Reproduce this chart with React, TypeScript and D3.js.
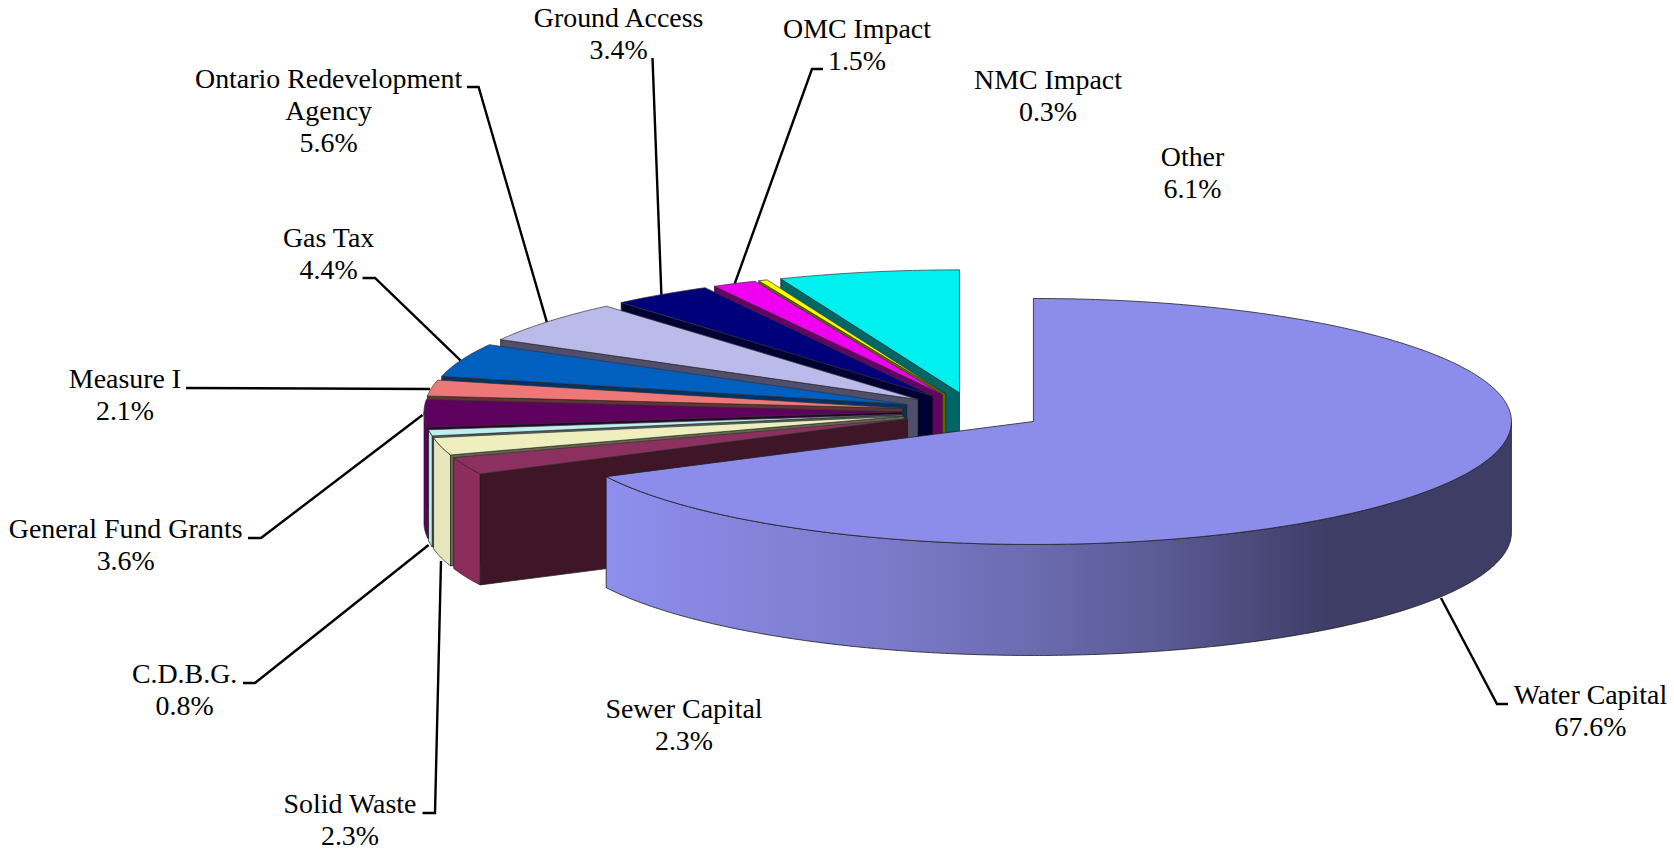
import React from "react";
import * as d3 from "d3";

const categories = ["Water Capital","Sewer Capital","Solid Waste","C.D.B.G.","General Fund Grants","Measure I","Gas Tax","Ontario Redevelopment Agency","Ground Access","OMC Impact","NMC Impact","Other"];
const values = [67.6,2.3,2.3,0.8,3.6,2.1,4.4,5.6,3.4,1.5,0.3,6.1];
const topColors = ["#8C8CEB","#8C3060","#EEEEBF","#BFEFEF","#5E005E","#EE7777","#005FBF","#BBBBEB","#00007A","#F000F0","#FFFF00","#00F0F0"];
const wallColors = ["#8C8CEB","#8C2D5C","#E6E6BC","#BFEFEF","#5E005E","#EE7777","#005FBF","#BBBBEB","#00007A","#F000F0","#FFFF00","#00F0F0"];
const faceColors = ["#3E3D66","#3F1528","#66664F","#4F6666","#2D002D","#663333","#003366","#4F4F6B","#000033","#660066","#666600","#006666"];
const waterGradientOffsets = [0,0.14,0.3,0.47,0.6,0.8,1];
const waterGradientColors = ["#8E8EEE","#8585DE","#7B7BCB","#6B6BB0","#5C5C98","#3E3D66","#3E3D66"];

// Label layout: [x centre, first baseline], split lines, leader polyline
const labelLines = [["Water Capital"],["Sewer Capital"],["Solid Waste"],["C.D.B.G."],["General Fund Grants"],["Measure I"],["Gas Tax"],["Ontario Redevelopment","Agency"],["Ground Access"],["OMC Impact"],["NMC Impact"],["Other"]];
const labelAnchors = [[1590.5,704],[684,718],[350,813],[184.6,683],[125.7,538],[125,388],[328.6,247],[328.6,87.5],[618.6,26.5],[857,37.5],[1048,89],[1192.5,166]];
const leaders: (number[][] | null)[] = [
  [[1508,704],[1497,704],[1441,598]],
  null,
  [[422.5,813],[435,813],[441,561]],
  [[243,683],[255,683],[428.6,545]],
  [[248,538],[261,538],[422.5,415]],
  [[186,388],[430,389]],
  [[362.5,278],[375,278],[460.7,360.7]],
  [[467,87],[478.6,87],[547,322.7]],
  [[652.5,58],[661.4,295]],
  [[823,69],[812,69],[734.6,284]],
  null,
  null,
];

const W = 1674, H = 852;
const X0 = 973, Y0 = 411.5, EX = 71, EY = 19;
const RX = 478, RY = 123, DEPTH = 111;
const FONT = "'Liberation Serif','Times New Roman',serif";
const FONT_SIZE = 27.9, LINE_H = 32.4;

const pie = d3.pie<number>().sort(null).startAngle(0).endAngle(2 * Math.PI);
const arcs = pie(values);
const line = d3.line();
const pct = d3.format(".1f");

function arcSamples(a0: number, a1: number) {
  const n = Math.max(2, Math.ceil((a1 - a0) / 0.01));
  return d3.range(n + 1).map((i) => a0 + ((a1 - a0) * i) / n);
}

function sliceGeom(i: number) {
  const { startAngle: a0, endAngle: a1 } = arcs[i];
  const b = (a0 + a1) / 2;
  const ax = X0 + EX * Math.sin(b), ay = Y0 - EY * Math.cos(b);
  const rim = (a: number): [number, number] => [ax + RX * Math.sin(a), ay - RY * Math.cos(a)];
  const down = (p: [number, number]): [number, number] => [p[0], p[1] + DEPTH];
  const top = line([[ax, ay], ...arcSamples(a0, a1).map(rim)]) + "Z";
  const s0 = rim(a0);
  const face = line([[ax, ay], s0, down(s0), [ax, ay + DEPTH]]) + "Z";
  const w0 = Math.max(a0, Math.PI / 2), w1 = Math.min(a1, 1.5 * Math.PI);
  let wall: string | null = null;
  if (w1 > w0) {
    const pts = arcSamples(w0, w1).map(rim);
    wall = line([...pts, ...pts.slice().reverse().map(down)]) + "Z";
  }
  return { top, face, wall };
}

export default function App() {
  const drawOrder = d3.range(values.length - 1, 0, -1);
  const water = sliceGeom(0);
  return (
    <svg width={W} height={H} viewBox={`0 0 ${W} ${H}`} style={{ position: "absolute", left: 0, top: 0, background: "#fff" }}>
      <defs>
        <linearGradient id="waterWall" x1="0" x2="1" y1="0" y2="0">
          {waterGradientOffsets.map((o, i) => (
            <stop key={i} offset={o} stopColor={waterGradientColors[i]} />
          ))}
        </linearGradient>
      </defs>
      {leaders.map((pts, i) =>
        pts ? <path key={i} d={line(pts as [number, number][]) as string} fill="none" stroke="#000" strokeWidth={2.4} /> : null
      )}
      {drawOrder.map((i) => {
        const g = sliceGeom(i);
        return (
          <g key={categories[i]} stroke="#1a1a1a" strokeWidth={0.7} strokeLinejoin="round">
            <path d={g.face} fill={faceColors[i]} />
            {g.wall && <path d={g.wall} fill={wallColors[i]} />}
            <path d={g.top} fill={topColors[i]} stroke="#333" />
          </g>
        );
      })}
      <g strokeLinejoin="round">
        <path d={water.wall as string} fill="url(#waterWall)" stroke="#1a1a1a" strokeWidth={0.8} />
        <path d={water.top} fill={topColors[0]} stroke="#222" strokeWidth={0.8} />
      </g>
      <g fontFamily={FONT} fontSize={FONT_SIZE} fill="#000" textAnchor="middle">
        {categories.map((c, i) => {
          const [x, y] = labelAnchors[i];
          const rows = [...labelLines[i], pct(values[i]) + "%"];
          return (
            <text key={c} x={x} y={y}>
              {rows.map((r, j) => (
                <tspan key={j} x={x} y={y + j * LINE_H}>{r}</tspan>
              ))}
            </text>
          );
        })}
      </g>
    </svg>
  );
}
